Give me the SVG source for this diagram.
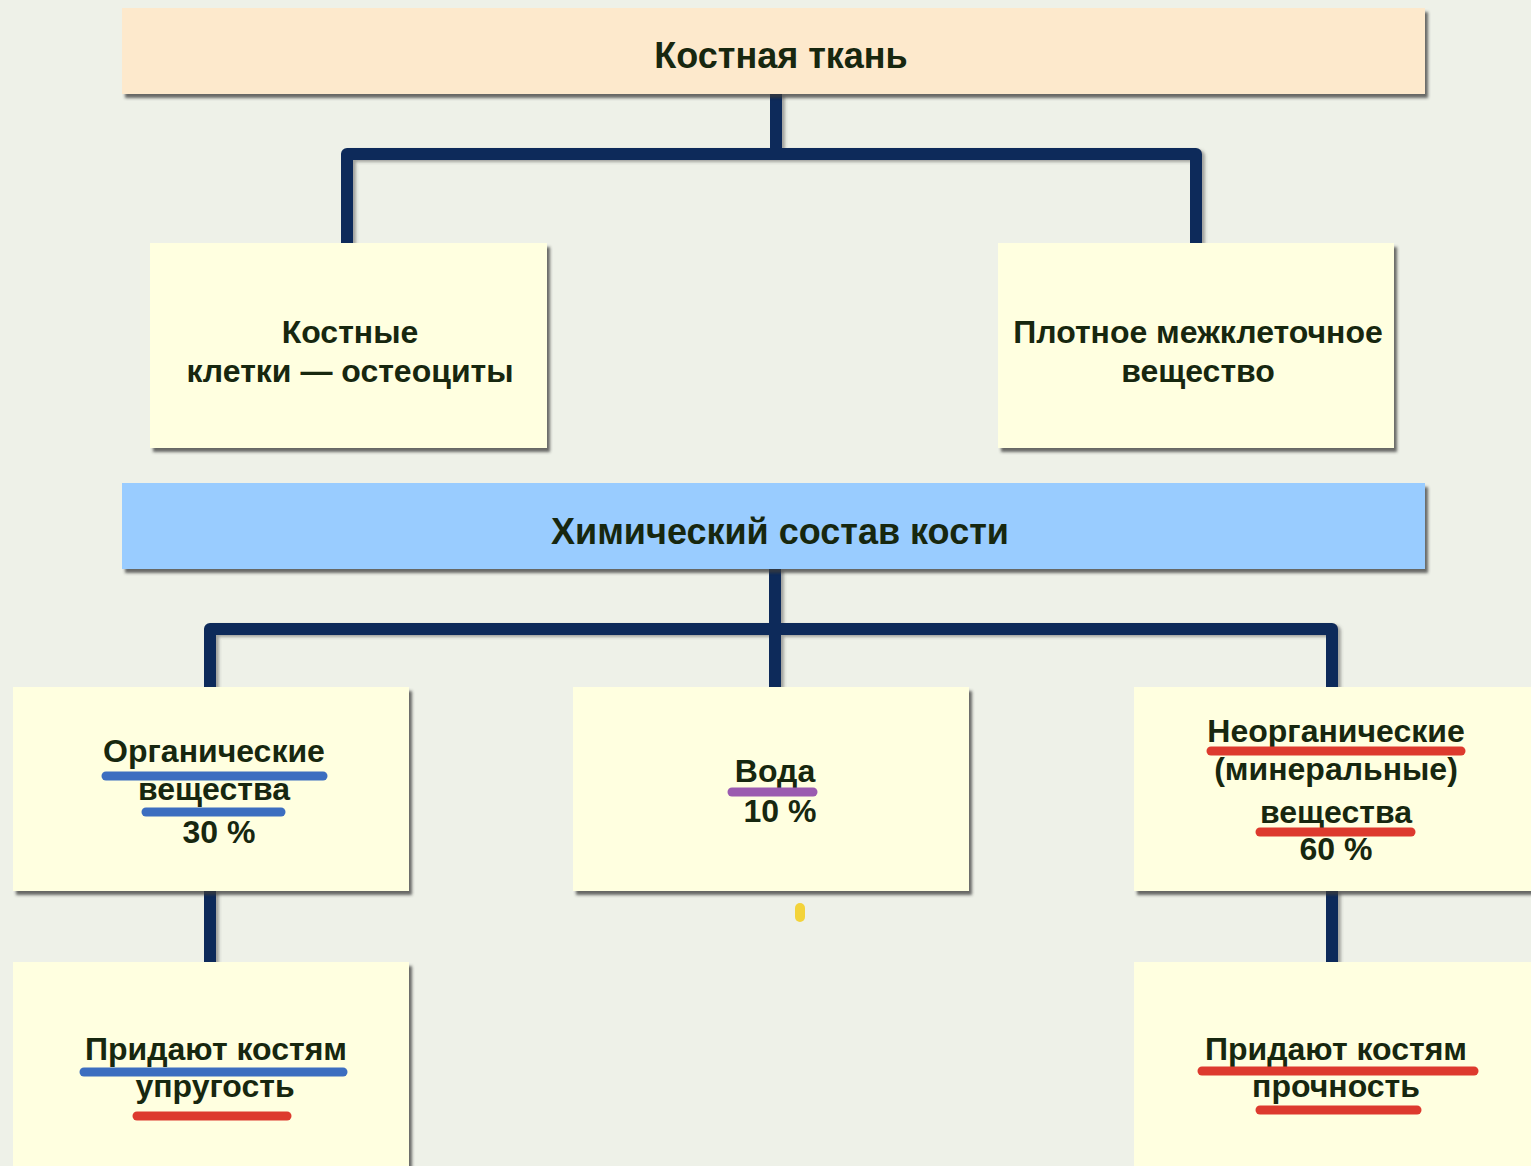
<svg xmlns="http://www.w3.org/2000/svg" width="1531" height="1166" viewBox="0 0 1531 1166">
<defs>
<filter id="sh" x="-5%" y="-5%" width="115%" height="125%">
<feDropShadow dx="3" dy="4" stdDeviation="1.8" flood-color="#3a3a3a" flood-opacity="0.75"/>
</filter>
<filter id="lsh" filterUnits="userSpaceOnUse" x="0" y="0" width="1531" height="1166">
<feDropShadow dx="3" dy="2" stdDeviation="1.5" flood-color="#555" flood-opacity="0.5"/>
</filter>
</defs>
<style>
.bg{fill:#EEF1E8}
.box{fill:#FFFFE0;filter:url(#sh)}
.top{fill:#FDE9CC;filter:url(#sh)}
.band{fill:#99CCFF;filter:url(#sh)}
.t{font-family:"Liberation Sans",Arial,sans-serif;font-weight:bold;font-size:32px;fill:#17270F;text-anchor:middle}
.h{font-size:36px}
.conn{fill:none;stroke:#0B2C5A;stroke-width:12;stroke-linejoin:round;stroke-linecap:butt}
.ub{stroke:#3C6EC0;stroke-width:9;stroke-linecap:round}
.ur{stroke:#DD3A2E;stroke-width:9;stroke-linecap:round}
.up{stroke:#9B5BB0;stroke-width:9;stroke-linecap:round}
</style>
<rect class="bg" x="0" y="0" width="1531" height="1166"/>
<g id="connectors" filter="url(#lsh)">
<path class="conn" d="M776 94 V154"/>
<path class="conn" d="M347 243 V154 H1196 V243"/>
<path class="conn" d="M775 569 V687"/>
<path class="conn" d="M210 687 V629 H1332 V687"/>
<path class="conn" d="M210 891 V962"/>
<path class="conn" d="M1332 891 V962"/>
</g>
<g id="node-bone-tissue">
<rect class="top" x="122" y="8" width="1303" height="86"/>
<text class="t h" x="781" y="68">Костная ткань</text>
</g>
<g id="node-cells">
<rect class="box" x="150" y="243" width="397" height="205"/>
<text class="t" x="350" y="343">Костные</text>
<text class="t" x="350" y="382">клетки — остеоциты</text>
</g>
<g id="node-matrix">
<rect class="box" x="998" y="243" width="396" height="205"/>
<text class="t" x="1198" y="343">Плотное межклеточное</text>
<text class="t" x="1198" y="382">вещество</text>
</g>
<g id="node-chem">
<rect class="band" x="122" y="483" width="1303" height="86"/>
<text class="t h" x="780" y="544">Химический состав кости</text>
</g>
<g id="node-organic">
<rect class="box" x="13" y="687" width="396" height="204"/>
<text class="t" x="214" y="762">Органические</text>
<line class="ub" x1="106" y1="776" x2="323" y2="776"/>
<text class="t" x="214" y="800">вещества</text>
<line class="ub" x1="146" y1="812" x2="281" y2="812"/>
<text class="t" x="219" y="843">30 %</text>
</g>
<g id="node-water">
<rect class="box" x="573" y="687" width="396" height="204"/>
<text class="t" x="775" y="782">Вода</text>
<line class="up" x1="732" y1="792" x2="813" y2="792"/>
<text class="t" x="780" y="822">10 %</text>
</g>
<rect x="795" y="903" width="10" height="19" rx="5" fill="#F3D33A"/>
<g id="node-inorganic">
<rect class="box" x="1134" y="687" width="400" height="204"/>
<text class="t" x="1336" y="742">Неорганические</text>
<line class="ur" x1="1211" y1="751" x2="1461" y2="751"/>
<text class="t" x="1336" y="780">(минеральные)</text>
<text class="t" x="1336" y="823">вещества</text>
<line class="ur" x1="1260" y1="832" x2="1411" y2="832"/>
<text class="t" x="1336" y="860">60 %</text>
</g>
<g id="node-elasticity">
<rect class="box" x="13" y="962" width="396" height="220"/>
<text class="t" x="216" y="1060">Придают костям</text>
<line class="ub" x1="84" y1="1072" x2="343" y2="1072"/>
<text class="t" x="215" y="1097">упругость</text>
<line class="ur" x1="137" y1="1116" x2="287" y2="1116"/>
</g>
<g id="node-strength">
<rect class="box" x="1134" y="962" width="400" height="220"/>
<text class="t" x="1336" y="1060">Придают костям</text>
<line class="ur" x1="1202" y1="1071" x2="1474" y2="1071"/>
<text class="t" x="1336" y="1097">прочность</text>
<line class="ur" x1="1260" y1="1110" x2="1417" y2="1110"/>
</g>
</svg>
